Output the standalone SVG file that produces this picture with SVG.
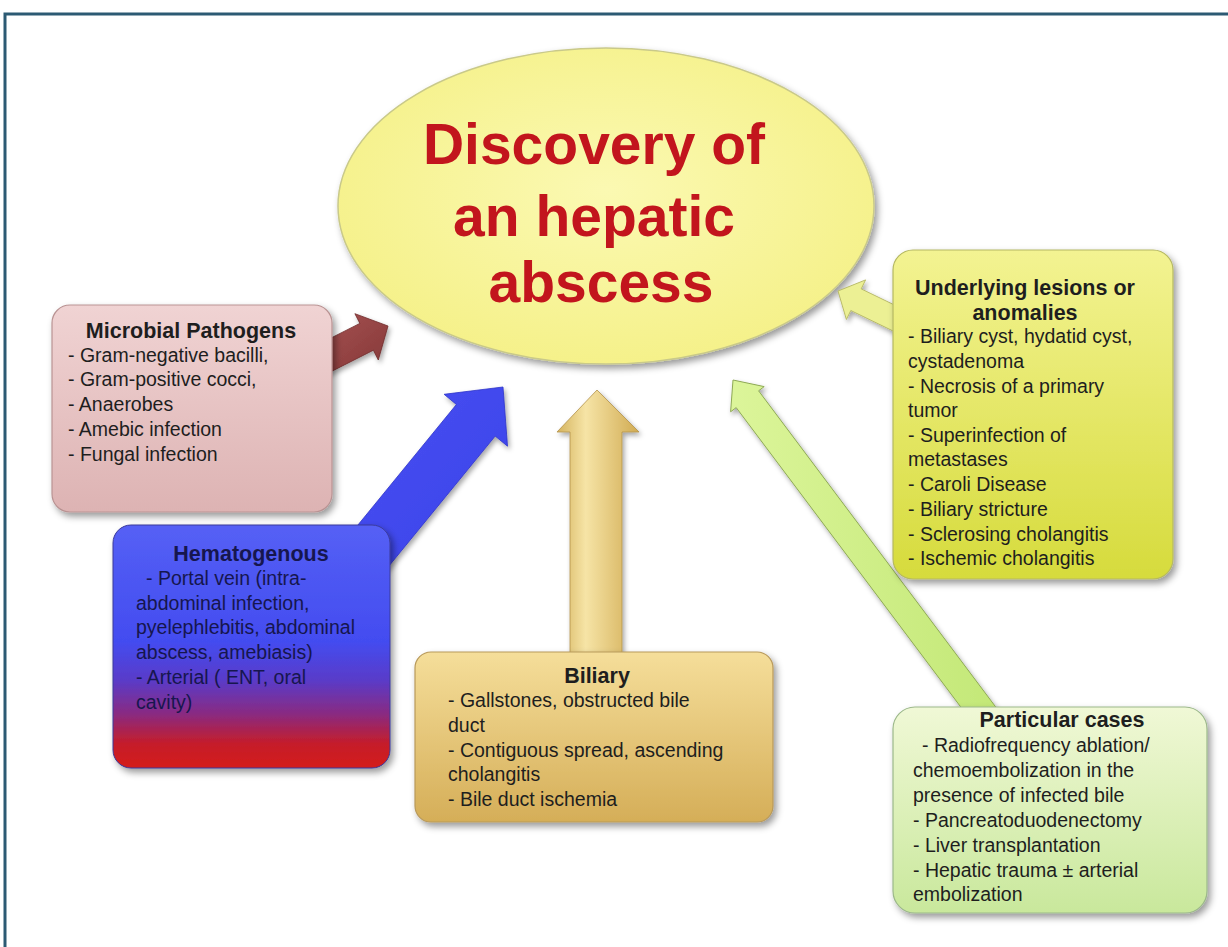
<svg xmlns="http://www.w3.org/2000/svg" width="1228" height="947" viewBox="0 0 1228 947">
<style>
.t{font-family:"Liberation Sans",Arial,sans-serif;font-size:21.5px;font-weight:bold;fill:#1e1e1e;text-anchor:middle}
.b{font-family:"Liberation Sans",Arial,sans-serif;font-size:19.5px;fill:#1e1e1e}
.hb{fill:#16164e}
.main{font-family:"Liberation Sans",Arial,sans-serif;font-size:57px;font-weight:bold;fill:#c2151d;text-anchor:middle}
</style>
<defs>
<filter id="sh" x="-15%" y="-15%" width="140%" height="140%"><feDropShadow dx="3" dy="4" stdDeviation="3.5" flood-color="#000" flood-opacity="0.4"/></filter>
<filter id="sha" x="-15%" y="-15%" width="140%" height="140%"><feDropShadow dx="2" dy="3" stdDeviation="2.5" flood-color="#000" flood-opacity="0.35"/></filter>
<radialGradient id="gEll" cx="50%" cy="45%" r="55%"><stop offset="0" stop-color="#fbf9b2"/><stop offset="1" stop-color="#f5f18a"/></radialGradient>
<linearGradient id="gMic" x1="0" y1="0" x2="0" y2="1"><stop offset="0" stop-color="#f0d3d3"/><stop offset="1" stop-color="#ddb3b3"/></linearGradient>
<linearGradient id="gHem" x1="0" y1="0" x2="0" y2="1"><stop offset="0" stop-color="#5560f5"/><stop offset="0.48" stop-color="#434cf0"/><stop offset="0.64" stop-color="#5a3bc8"/><stop offset="0.78" stop-color="#8a2a80"/><stop offset="0.9" stop-color="#c51d2a"/><stop offset="1" stop-color="#d41a1a"/></linearGradient>
<linearGradient id="gBil" x1="0" y1="0" x2="0" y2="1"><stop offset="0" stop-color="#f5de9a"/><stop offset="1" stop-color="#d5ae58"/></linearGradient>
<linearGradient id="gUnd" x1="0" y1="0" x2="0" y2="1"><stop offset="0" stop-color="#f3f392"/><stop offset="1" stop-color="#d6db3c"/></linearGradient>
<linearGradient id="gPar" x1="0" y1="0" x2="0" y2="1"><stop offset="0" stop-color="#f0f8d6"/><stop offset="1" stop-color="#c9e89c"/></linearGradient>
<linearGradient id="gBilA" x1="0" y1="0" x2="1" y2="0"><stop offset="0" stop-color="#d4b25c"/><stop offset="0.35" stop-color="#f6e4a6"/><stop offset="1" stop-color="#d1ab52"/></linearGradient>
<linearGradient id="gBlueA" x1="0" y1="0" x2="1" y2="1"><stop offset="0" stop-color="#4a52f3"/><stop offset="1" stop-color="#3a40e8"/></linearGradient>
<linearGradient id="gMicA" x1="0" y1="0" x2="1" y2="1"><stop offset="0" stop-color="#a85252"/><stop offset="1" stop-color="#843838"/></linearGradient>
<linearGradient id="gGrnA" x1="0" y1="0" x2="1" y2="0"><stop offset="0" stop-color="#dcf59a"/><stop offset="1" stop-color="#c3e877"/></linearGradient>
</defs>
<rect x="0" y="0" width="1228" height="947" fill="#ffffff"/>
<rect x="5" y="14" width="1240" height="960" fill="none" stroke="#2c5a73" stroke-width="3"/>

<g id="node-center">
<ellipse cx="606" cy="206" rx="268" ry="158" fill="url(#gEll)" stroke="#c9c98a" stroke-width="1.5" filter="url(#sh)"/>
<text class="main" x="594" y="164">Discovery of</text>
<text class="main" x="594" y="236">an hepatic</text>
<text class="main" x="601" y="302">abscess</text>
</g>

<g id="connectors" filter="url(#sha)">
<polygon points="310.9,348.2 359.9,323.4 354.9,313.7 388,326 378.3,360 373.4,350.2 324.4,375" fill="url(#gMicA)" stroke="#6e2a2a" stroke-width="0.8"/>
<polygon points="323.6,567 456.4,404.5 444.1,394.3 503,387 507.5,446.2 495.2,436.1 362.3,598.6" fill="url(#gBlueA)" stroke="#2d33c8" stroke-width="0.8"/>
<polygon points="570,700 570,432 557,432 597,390 639,432 622,432 622,700" fill="url(#gBilA)" stroke="#b2924a" stroke-width="0.8"/>
<polygon points="999.2,711.6 758.6,390.8 764.2,386.6 733,380 730.6,411.8 736.2,407.6 976.8,728.4" fill="url(#gGrnA)" stroke="#8ea955" stroke-width="1"/>
<polygon points="906.2,310.7 861.2,288.9 865.6,279.9 838,291 846.4,319.5 850.8,310.5 895.8,332.3" fill="#ecf094" stroke="#b9bb6a" stroke-width="1"/>
</g>

<g id="node-microbial">
<rect x="52" y="305" width="280" height="207" rx="18" fill="url(#gMic)" stroke="#b99393" stroke-width="1.2" filter="url(#sh)"/>
<text class="t" x="191" y="338">Microbial Pathogens</text>
<text class="b" x="68" y="362">- Gram-negative bacilli,</text>
<text class="b" x="68" y="386">- Gram-positive cocci,</text>
<text class="b" x="68" y="411">- Anaerobes</text>
<text class="b" x="68" y="436">- Amebic infection</text>
<text class="b" x="68" y="461">- Fungal infection</text>
</g>

<g id="node-hematogenous">
<rect x="113" y="525" width="277" height="243" rx="18" fill="url(#gHem)" stroke="#3a3a9a" stroke-width="1" filter="url(#sh)"/>
<text class="t hb" x="251" y="561">Hematogenous</text>
<text class="b hb" x="146" y="585">- Portal vein (intra-</text>
<text class="b hb" x="136" y="610">abdominal infection,</text>
<text class="b hb" x="136" y="634">pyelephlebitis, abdominal</text>
<text class="b hb" x="136" y="659">abscess, amebiasis)</text>
<text class="b hb" x="136" y="684">- Arterial ( ENT, oral</text>
<text class="b hb" x="136" y="709">cavity)</text>
</g>

<g id="node-biliary">
<rect x="415" y="652" width="358" height="170" rx="16" fill="url(#gBil)" stroke="#b8995a" stroke-width="1.2" filter="url(#sh)"/>
<text class="t" x="597" y="683">Biliary</text>
<text class="b" x="448" y="707">- Gallstones, obstructed bile</text>
<text class="b" x="448" y="732">duct</text>
<text class="b" x="448" y="757">- Contiguous spread, ascending</text>
<text class="b" x="448" y="781">cholangitis</text>
<text class="b" x="448" y="806">- Bile duct ischemia</text>
</g>

<g id="node-underlying">
<rect x="893" y="250" width="280" height="329" rx="20" fill="url(#gUnd)" stroke="#b5b862" stroke-width="1.2" filter="url(#sh)"/>
<text class="t" x="1025" y="295">Underlying lesions or</text>
<text class="t" x="1025" y="320">anomalies</text>
<text class="b" x="908" y="343">- Biliary cyst, hydatid cyst,</text>
<text class="b" x="908" y="368">cystadenoma</text>
<text class="b" x="908" y="393">- Necrosis of a primary</text>
<text class="b" x="908" y="417">tumor</text>
<text class="b" x="908" y="442">- Superinfection of</text>
<text class="b" x="908" y="466">metastases</text>
<text class="b" x="908" y="491">- Caroli Disease</text>
<text class="b" x="908" y="516">- Biliary stricture</text>
<text class="b" x="908" y="541">- Sclerosing cholangitis</text>
<text class="b" x="908" y="565">- Ischemic cholangitis</text>
</g>

<g id="node-particular">
<rect x="893" y="707" width="314" height="206" rx="22" fill="url(#gPar)" stroke="#9cb88a" stroke-width="1.2" filter="url(#sh)"/>
<text class="t" x="1062" y="727">Particular cases</text>
<text class="b" x="922" y="752">- Radiofrequency ablation/</text>
<text class="b" x="913" y="777">chemoembolization in the</text>
<text class="b" x="913" y="802">presence of infected bile</text>
<text class="b" x="913" y="827">- Pancreatoduodenectomy</text>
<text class="b" x="913" y="852">- Liver transplantation</text>
<text class="b" x="913" y="877">- Hepatic trauma ± arterial</text>
<text class="b" x="913" y="901">embolization</text>
</g>
</svg>
